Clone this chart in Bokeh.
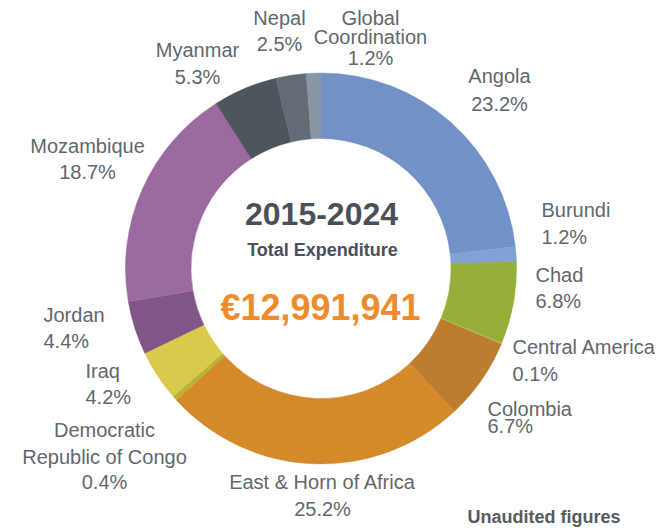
import math
from bokeh.plotting import figure
from bokeh.models import Range1d, ColumnDataSource
from bokeh.core.properties import value
from bokeh.embed import file_html
from bokeh.resources import INLINE

# ---- data ----
regions = ["Angola", "Burundi", "Chad", "Central America", "Colombia",
           "East & Horn of Africa", "Democratic Republic of Congo", "Iraq",
           "Jordan", "Mozambique", "Myanmar", "Nepal", "Global Coordination"]
shares = [23.2, 1.2, 6.8, 0.1, 6.7, 25.2, 0.4, 4.2, 4.4, 18.7, 5.3, 2.5, 1.2]
colors = ["#7191C7", "#80A2D6", "#94AE38", "#A9C04E", "#BC7D2F",
          "#D4892A", "#BDB036", "#D8CB4B", "#7F5685", "#9C6AA0",
          "#4E555D", "#636B74", "#8796A4"]
label_lines = [["Angola"], ["Burundi"], ["Chad"], ["Central America"], ["Colombia"],
               ["East & Horn of Africa"], ["Democratic", "Republic of Congo"], ["Iraq"],
               ["Jordan"], ["Mozambique"], ["Myanmar"], ["Nepal"], ["Global", "Coordination"]]
title_period = "2015-2024"
title_sub = "Total Expenditure"
total_text = "€12,991,941"
note_text = "Unaudited figures"

# ---- layout (image pixel coords) ----
W, H = 667, 528
K = 0.37  # baseline correction factor (fraction of font size)

def Y(img_y):
    return H - img_y

def TY(img_baseline, size):
    return Y(img_baseline - K * size)

cx, cy = 320.5, Y(268)
r_out, r_in = 195.5, 130
label_layout = [
    (499, "center", [83, 111]),
    (541, "left", [217, 244]),
    (535, "left", [282, 308]),
    (512, "left", [354, 381]),
    (487, "left", [416, 433]),
    (322, "center", [489, 516]),
    (104, "center", [437, 464, 489]),
    (85, "left", [378, 404]),
    (43, "left", [322, 348]),
    (87, "center", [153, 179]),
    (197, "center", [57, 84]),
    (279, "center", [25, 51]),
    (370, "center", [25, 44, 65]),
]

total = sum(shares)
starts, ends = [], []
acc = 0.0
for s in shares:
    starts.append(math.pi / 2 - 2 * math.pi * acc / total)
    acc += s
    ends.append(math.pi / 2 - 2 * math.pi * acc / total)

p = figure(width=W, height=H, x_range=Range1d(0, W), y_range=Range1d(0, H),
           output_backend="svg", toolbar_location=None, min_border=0)
p.axis.visible = False
p.grid.visible = False
p.outline_line_color = None
p.background_fill_color = "white"
p.border_fill_color = "white"

src = ColumnDataSource(dict(x=[cx] * len(shares), y=[cy] * len(shares),
                            start=starts, end=ends, color=colors))
p.annular_wedge(x="x", y="y", inner_radius=r_in, outer_radius=r_out,
                inner_radius_units="screen", outer_radius_units="screen",
                start_angle="start", end_angle="end", direction="clock",
                fill_color="color", line_color="color", line_width=0.5, source=src)

LABEL_FONT = value("Liberation Sans")
label_color = "#61676E"
for name_lines, share, (lx, align, baselines) in zip(label_lines, shares, label_layout):
    lines = name_lines + [f"{share:.1f}%"]
    for txt, by in zip(lines, baselines):
        p.text(x=[lx], y=[TY(by, 20)], text=[txt], text_font=LABEL_FONT,
               text_font_size="20px", text_color=label_color,
               text_align=align, text_baseline="alphabetic")

BOLD_FONT = value("Liberation Sans")
p.text(x=[321], y=[TY(225, 32)], text=[title_period], text_font=BOLD_FONT, text_font_style="bold",
       text_font_size="32px", text_color="#4A5058", text_align="center", text_baseline="alphabetic")
p.text(x=[322], y=[TY(256, 18)], text=[title_sub], text_font=BOLD_FONT, text_font_style="bold",
       text_font_size="18px", text_color="#4A5058", text_align="center", text_baseline="alphabetic")
p.text(x=[320], y=[TY(320, 36)], text=[total_text], text_font=BOLD_FONT, text_font_style="bold",
       text_font_size="36px", text_color="#EE8B2D", text_align="center", text_baseline="alphabetic")
p.text(x=[467], y=[TY(523, 18)], text=[note_text], text_font=BOLD_FONT, text_font_style="bold",
       text_font_size="18px", text_color="#555B63", text_align="left", text_baseline="alphabetic")

open("out.html", "w").write(file_html(p, INLINE))
